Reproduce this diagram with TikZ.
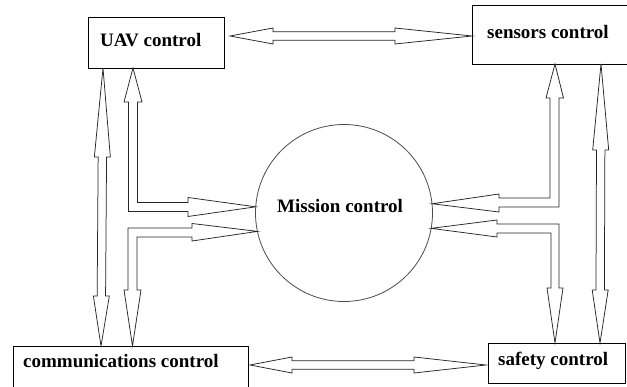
\documentclass[tikz,border=0pt]{standalone}
\usepackage{fontspec}
\setmainfont{Liberation Serif}
\usetikzlibrary{calc}
\tikzset{
  boxnode/.style={draw=black, line width=0.9pt, rectangle, inner sep=0pt, outer sep=0pt, anchor=north west},
  circnode/.style={draw=black!70, line width=0.8pt, circle, inner sep=0pt, outer sep=0pt, minimum size=177pt},
  lbl/.style={anchor=base west, inner sep=0pt, font=\bfseries\fontsize{19}{23}\selectfont},
  blockarrow/.style={draw=black!85, line width=0.75pt, line join=miter, fill=white},
}
% straight double-headed block arrow: tip a, tip b, head length at a, head length at b
\newcommand{\dblarrow}[4]{%
  \draw[blockarrow] (#1)
    -- ($(#1)!#3!(#2)!8pt!90:(#2)$) -- ($(#1)!#3!(#2)!4.2pt!90:(#2)$)
    -- ($(#2)!#4!(#1)!4.2pt!-90:(#1)$) -- ($(#2)!#4!(#1)!8pt!-90:(#1)$)
    -- (#2)
    -- ($(#2)!#4!(#1)!8pt!90:(#1)$) -- ($(#2)!#4!(#1)!4.2pt!90:(#1)$)
    -- ($(#1)!#3!(#2)!4.2pt!-90:(#2)$) -- ($(#1)!#3!(#2)!8pt!-90:(#2)$)
    -- cycle;}
\begin{document}
\begin{tikzpicture}[x=1pt, y=-1pt]
  \useasboundingbox (0,0) rectangle (627,387);
  \clip (0,0) rectangle (627,387);
  \fill[white] (0,0) rectangle (627,387);

  % boxes
  \node[boxnode, minimum width=136pt, minimum height=51pt] (uav) at (88,17) {};
  \node[boxnode, minimum width=170pt, minimum height=59pt] (sens) at (472,5) {};
  \node[boxnode, minimum width=235pt, minimum height=60pt] (comm) at (13,346) {};
  \node[boxnode, minimum width=137pt, minimum height=40pt] (safe) at (488,343) {};
  \node[circnode] (mc) at (344,213) {};

  % labels
  \node[lbl] (uavt) at (100,47) {UAV control};
  \node[lbl] (senst) at (487,38.5) {sensors control};
  \node[lbl] (mct) at (277,213) {Mission control};
  \node[lbl] (commt) at (23,368) {communications control};
  \node[lbl] (safet) at (498,365.5) {safety control};

  % tip coordinates
  \coordinate (t1) at ($(uav.east |- 0,36)+(6,0)$);
  \coordinate (t2) at (sens.west |- 0,36);
  \coordinate (b1) at ($(comm.east |- 0,365)+(2,0)$);
  \coordinate (b2) at ($(safe.west |- 0,365)+(-2,0)$);
  \coordinate (l1) at (uav.south -| 103,0);
  \coordinate (l2) at (comm.north -| 101,0);
  \coordinate (r1) at (sens.south -| 601,0);
  \coordinate (r2) at (safe.north -| 600,0);

  \coordinate (ulA) at (uav.south -| 133,0);
  \coordinate (ulB) at (mc.176);
  \coordinate (llC) at (mc.192);
  \coordinate (llD) at (comm.north -| 132.5,0);
  \coordinate (urE) at (sens.south -| 555,0);
  \coordinate (urF) at (mc.6);
  \coordinate (lrG) at (mc.-10);
  \coordinate (lrH) at (safe.north -| 555,0);

  % straight arrows
  \dblarrow{t1}{t2}{43pt}{77pt}
  \dblarrow{b1}{b2}{42pt}{72pt}
  \dblarrow{l1}{l2}{89pt}{50pt}
  \dblarrow{r1}{r2}{86pt}{53pt}

  % bent arrows
  \draw[blockarrow] (ulA) -- (142,102) -- (137.5,102) -- (137.5,202.5) -- (188,202.5)
    -- (188,197.5) -- (ulB) -- (188,216.5) -- (188,211.5) -- (128.5,211.5)
    -- (128.5,102) -- (124,102) -- cycle;
  \draw[blockarrow] (llC) -- (192,223.5) -- (192,228) -- (128,228) -- (128,290)
    -- (124,290) -- (llD) -- (141,290) -- (137,290) -- (137,237) -- (192,237)
    -- (192,241) -- cycle;
  \draw[blockarrow] (urE) -- (563.5,98) -- (559,98) -- (559,207) -- (499,207)
    -- (499,212) -- (urF) -- (499,194) -- (499,198) -- (550,198) -- (550,98)
    -- (546,98) -- cycle;
  \draw[blockarrow] (lrG) -- (497,220) -- (497,224) -- (559,224) -- (559,288)
    -- (563,288) -- (lrH) -- (547,288) -- (551,288) -- (551,233) -- (497,233)
    -- (497,237) -- cycle;
\end{tikzpicture}
\end{document}
